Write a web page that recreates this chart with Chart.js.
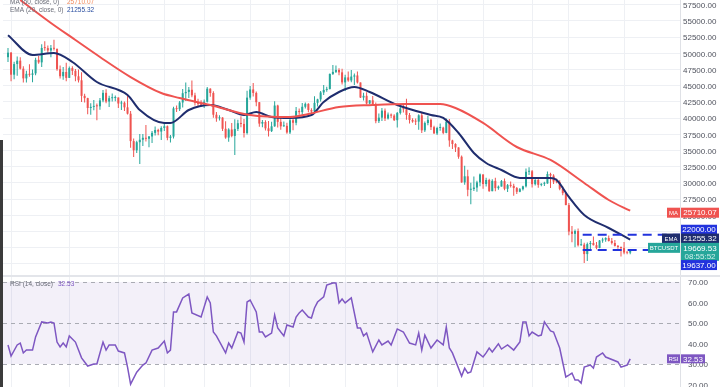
<!DOCTYPE html>
<html>
<head>
<meta charset="utf-8">
<script src="https://cdn.jsdelivr.net/npm/chart.js@4.4.1/dist/chart.umd.min.js"></script>
<style>
  html, body { margin: 0; padding: 0; background: #fff; }
  #wrap { position: relative; width: 720px; height: 387px; overflow: hidden; }
  #priceCanvas { position: absolute; left: 0; top: 0; }
  #rsiCanvas { position: absolute; left: 0; top: 277px; }
  #sep { position: absolute; left: 0; top: 275px; width: 720px; height: 2px; background: #e3e5ea; }
  #edge { position: absolute; left: 0; top: 140px; width: 3px; height: 247px; background: #3b3b3b; }
</style>
</head>
<body>
<div id="wrap">
  <canvas id="priceCanvas" width="720" height="275"></canvas>
  <div id="sep"></div>
  <canvas id="rsiCanvas" width="720" height="110"></canvas>
  <div id="edge"></div>
</div>
<script>
// BTCUSDT daily candles, first candle 2021-12-12, last 2022-07-03 (index = day number)
var open = [
  49400,50100,46700,48340,48860,47630,46130,46830,46680,46900,
  48990,48600,50820,50800,50430,50800,50700,47540,46460,47120,
  46210,47720,47290,46450,45830,43430,43080,41560,41730,41860,
  41820,42730,43900,42560,43070,43100,43180,42250,42370,41660,
  40680,36450,35030,36280,36660,36960,36810,37160,37720,38170,
  37920,38480,38740,36950,37150,41500,41380,42410,43840,44040,
  44370,43510,42380,42200,42050,42530,44540,43870,40520,39970,
  40090,38350,37000,38240,37250,38330,39210,39100,37700,43160,
  44420,43890,42450,39150,39400,38420,37990,38730,41940,39420,
  38730,38810,37780,39670,39280,41110,40920,41750,42200,41260,
  41000,42360,42890,43960,44350,44500,46820,47130,47430,47060,
  45510,46280,45810,46410,46580,45500,43170,43440,42250,42750,
  42160,39530,40070,41150,39940,40550,40380,39680,40800,41500,
  41360,40480,39710,39470,39450,40430,38110,39240,39740,38600,
  37630,38470,38530,37720,39450,36550,36010,35470,34040,30080,
  31020,28940,29050,29280,30080,31310,29820,30450,28720,30310,
  29190,29430,30280,29090,29650,29540,29200,28630,29030,29470,
  31720,31800,29800,30450,29700,29860,29910,31370,31130,30200,
  30110,29090,28420,26580,22490,22140,22580,20380,20470,19010,
  20560,20720,20390,19960,21110,21240,21490,21040,20730,20280,
  20100,19940,19250,19240
];
var high = [
  50800,50200,48700,49500,49400,48000,47300,48300,47500,49300,
  49600,51400,51870,51200,51280,52090,50700,48100,47900,48550,
  47950,47990,47570,47500,47070,43750,43150,42300,42800,42250,
  43100,44350,44450,43450,43800,43480,43180,42690,42550,43500,
  41100,36840,36500,37550,37550,38920,37240,38000,38720,38360,
  38750,39270,38850,37380,41750,41950,42650,44500,45500,44800,
  45820,43900,43000,42750,42880,44780,44600,44150,40950,40450,
  40150,39500,38430,39250,39840,39730,40300,39880,44230,44950,
  45400,44100,42500,39700,39650,39550,39450,42590,42050,40250,
  39480,39300,39950,39890,41720,41480,42320,42400,42300,41530,
  43360,43000,44200,45100,44820,46900,48190,48100,47700,47600,
  46700,47200,47440,46890,47200,45500,43900,43970,42800,43420,
  42420,40700,41560,41500,40870,40700,40600,40960,41760,42200,
  42980,40800,39980,39940,40600,40800,39470,40370,39930,38800,
  38670,39170,38650,39920,39850,36650,36130,35500,34240,32660,
  32010,30030,31000,30330,31450,31300,30780,30650,30550,30780,
  29600,30450,30670,29820,30220,29870,29380,29230,29550,32220,
  32400,31980,30690,30690,29950,30180,31760,31560,31330,30690,
  30400,29440,28540,26900,23350,22800,22980,21350,20780,20800,
  21050,21720,20890,21200,21530,21610,21870,21510,21180,20430,
  20180,20870,19420,19700
];
var low = [
  48650,45700,46000,46550,47500,45500,45500,46400,45550,46600,
  48400,47900,50400,50100,49400,50450,47300,46100,45900,45680,
  46200,46650,45700,45500,42500,42400,40600,40500,41200,39650,
  41270,42450,42300,41700,42570,42600,41540,41250,41100,40550,
  35440,34000,34600,32920,35700,36400,35500,36150,37300,37350,
  36630,38000,36600,36250,36850,40950,41100,41650,42650,43100,
  43200,41950,41750,41850,41550,42420,43300,40070,39450,39640,
  38000,36800,36350,37030,34320,38010,38580,37000,37450,42830,
  43330,41830,38650,38600,38090,37150,37850,38650,38540,38220,
  38660,37580,37550,38120,38900,40500,40130,41500,40900,40470,
  40900,41800,42560,43570,44080,44420,46660,46950,46600,45200,
  44200,45620,45520,45120,45350,43120,42730,42110,42130,41870,
  39200,39250,39550,39550,39770,40000,39550,38540,40570,40850,
  39750,39180,39280,38930,38200,37700,37870,38880,38180,37580,
  37390,38050,37500,37650,35570,35250,34770,33710,30030,29730,
  27950,26700,28750,28630,29480,29100,29450,28650,28700,28730,
  28950,29430,28850,28580,29300,28010,28300,28540,28820,29300,
  31200,29300,29600,29250,29470,29520,29880,29220,29840,29940,
  28850,28100,26560,21930,20850,20080,20200,20300,17620,17960,
  19650,20350,19770,19900,20760,20900,20960,20510,20200,19850,
  18630,18980,18980,19000
];
var close = [
  50100,46700,48340,48860,47630,46130,46830,46680,46900,48990,
  48600,50820,50800,50430,50800,50700,47540,46460,47120,46210,
  47720,47290,46450,45830,43430,43080,41560,41730,41860,41820,
  42730,43900,42560,43070,43100,43180,42250,42370,41660,40680,
  36450,35030,36280,36660,36960,36810,37160,37720,38170,37920,
  38480,38740,36950,37150,41500,41380,42410,43840,44040,44370,
  43510,42380,42200,42050,42530,44540,43870,40520,39970,40090,
  38350,37000,38240,37250,38330,39210,39100,37700,43160,44420,
  43890,42450,39150,39400,38420,37990,38730,41940,39420,38730,
  38810,37780,39670,39280,41110,40920,41750,42200,41260,41000,
  42360,42890,43960,44350,44500,46820,47130,47430,47060,45510,
  46280,45810,46410,46580,45500,43170,43440,42250,42750,42160,
  39530,40070,41150,39940,40550,40380,39680,40800,41500,41360,
  40480,39710,39470,39450,40430,38110,39240,39740,38600,37630,
  38470,38530,37720,39450,36550,36010,35470,34040,30080,31020,
  28940,29050,29280,30080,31310,29820,30450,28720,30310,29190,
  29430,30280,29090,29650,29540,29200,28630,29030,29470,31720,
  31800,29800,30450,29700,29860,29910,31370,31130,30200,30110,
  29090,28420,26580,22490,22140,22580,20380,20470,19010,20560,
  20720,20390,19960,21110,21240,21490,21040,20730,20280,20100,
  19940,19250,19240,19670
];

// MA (50) and EMA (20) at these days
var maDay = [4, 14, 22, 30, 40, 50, 56, 66, 79, 92, 98, 108, 119, 130, 141, 146, 155, 166, 177, 188, 196, 203];
var maVal = [58220, 54680, 52050, 49430, 46340, 43870, 43100, 42020, 40480, 40170, 40630, 41710, 42020, 42180, 42180, 41560, 39250, 35540, 33540, 29990, 27360, 25710];
var emaDay = [0, 8, 15, 21, 29, 39, 43, 51, 53, 59, 66, 72, 77, 81, 86, 92, 99, 103, 108, 113, 118, 127, 138, 142, 147, 152, 156, 161, 167, 177, 179, 183, 188, 196, 203];
var emaVal = [52800, 49740, 50050, 48660, 45570, 43570, 41250, 39250, 39250, 41250, 42020, 41250, 40480, 40940, 40170, 40020, 40480, 42490, 44030, 44800, 44030, 42020, 40480, 40020, 37700, 34620, 33070, 31990, 30760, 30760, 30450, 27830, 25050, 23040, 21255];

// RSI (14)
var rsiDay = [0,1,3,4,5,6,8,9,11,13,14,15,16,17,18,19,20,22,24,26,28,29,31,32,33,35,36,38,39,40,42,44,45,47,49,51,52,53,54,55,57,59,60,63,65,66,67,68,71,72,73,75,76,
  77,78,79,81,82,83,84,86,87,88,89,90,91,93,94,95,96,98,99,100,101,103,104,106,107,108,109,110,112,114,115,116,117,119,121,122,124,125,127,129,131,133,134,135,136,138,140,142,143,144,145,148,149,150,151,153,155,156,157,158,160,161,163,165,167,168,169,170,171,173,174,175,177,178,180,182,183,184,185,186,187,188,190,191,192,194,195,199,200,202,203];
var rsiVal = [39.3,33.9,39.3,40.2,35.4,36.8,36.8,43.2,50.5,50,50.5,50,40.7,38.3,40.2,38.3,43.7,40.7,33,29,30,30,40.7,36.8,39.3,39.3,36.3,35.4,28.5,20.2,26,29.5,30.5,36.8,37.8,41.2,35.4,36.8,55.4,55.4,62.2,64.1,54.9,52.9,62.7,59.8,45.6,43.7,35.4,40.2,37.8,45.6,45.1,
  40.7,60.2,61.2,55.4,45.6,45.6,43.2,45.1,53.9,47.6,45.6,43.7,49,48,52.9,54.9,56.3,52.9,52.4,57.3,60.2,62.7,68.5,69.5,69.5,59.8,61.7,59.8,62.2,47.6,47.6,43.7,45.1,35.9,41.7,39.3,41.2,39.3,47.1,45.6,40.2,39.3,45.1,36.8,44.1,37.8,41.7,39.3,48,37.8,35.4,24.1,28,25.6,26.1,35.9,33.4,35.4,37.8,35.9,39.8,37.3,39.3,36.8,40.7,50.5,50.5,43.7,45.6,43.7,44.1,50.5,46.1,45.6,37.8,23.7,24.6,25.6,22.2,22.2,20.7,28.5,29.5,28,33.4,35.4,33.4,31,28.5,29.5,32.53];

var priceTicks = [17500,20000,22500,25000,27500,30000,32500,35000,37500,40000,42500,45000,47500,50000,52500,55000,57500];
var rsiTicks = [20, 30, 40, 50, 60, 70];
var gridDays = [1, 20, 36, 51, 64, 79, 92, 110, 127, 140, 155, 171, 183, 201];

var levels = [22000, 19637];   // drawn resistance / support
var levelFrom = 187.5;
var lastPrice = 19669.53, countdown = '08:55:52';
var lastMA = 25710.07, lastEMA = 21255.32, lastRSI = 32.53;

var UP = '#26a69a', DOWN = '#ef5350';
var MA_COLOR = '#ef5350', EMA_COLOR = '#1f2d6e', RSI_COLOR = '#7e57c2', LEVEL_COLOR = '#2233dd';
var FONT = '"Liberation Sans", Arial, sans-serif';

var days = close.map(function (c, i) { return i; });
function candleColor(ctx) {
  var i = ctx.dataIndex;
  return close[i] >= open[i] ? UP : DOWN;
}

function xAxis() {
  return {
    type: 'linear', min: -1.63, max: 219.25, offset: false,
    grid: { color: '#eef0f4', drawTicks: false, offset: false },
    border: { display: false },
    ticks: { display: false },
    afterBuildTicks: function (s) { s.ticks = gridDays.map(function (v) { return { value: v }; }); },
    afterFit: function (s) { s.height = 0; }
  };
}

// coloured label box, value boxes use 8px text, name tags a smaller one
function box(ctx, x, y, w, h, bg, txt, size) {
  ctx.fillStyle = bg;
  ctx.fillRect(x, y, w, h);
  ctx.font = (size || 8) + 'px ' + FONT;
  ctx.fillStyle = '#fff';
  ctx.textAlign = 'center';
  ctx.textBaseline = 'middle';
  ctx.fillText(txt, x + w / 2, y + h / 2 + 0.5);
}

// price pane extras: dashed levels, axis text, price tags, legend
var pricePlugin = {
  id: 'priceExtras',
  afterDatasetsDraw: function (chart) {
    var ctx = chart.ctx, xs = chart.scales.x, ys = chart.scales.y, area = chart.chartArea;
    ctx.save();
    ctx.strokeStyle = LEVEL_COLOR;
    ctx.lineWidth = 2;
    ctx.setLineDash([9, 6]);
    levels.forEach(function (v) {
      var y = ys.getPixelForValue(v);
      ctx.beginPath();
      ctx.moveTo(xs.getPixelForValue(levelFrom), y);
      ctx.lineTo(area.right, y);
      ctx.stroke();
    });
    ctx.restore();
  },
  afterDraw: function (chart) {
    var ctx = chart.ctx, ys = chart.scales.y;
    ctx.save();
    ctx.font = '8px ' + FONT;
    ctx.fillStyle = '#50535e';
    ctx.textAlign = 'left';
    ctx.textBaseline = 'middle';
    priceTicks.forEach(function (v) {
      ctx.fillText(v.toFixed(2), 683, ys.getPixelForValue(v) + 1);
    });

    var yMA = ys.getPixelForValue(lastMA) + 2;
    box(ctx, 667, yMA - 5, 13, 10, MA_COLOR, 'MA', 6);
    box(ctx, 681, yMA - 5, 38, 10, MA_COLOR, lastMA.toFixed(2));

    var yR = ys.getPixelForValue(levels[0]) - 5;
    box(ctx, 681, yR - 5, 36, 10, LEVEL_COLOR, levels[0].toFixed(2));

    var yE = ys.getPixelForValue(lastEMA) - 1;
    box(ctx, 662, yE - 5, 18, 10, EMA_COLOR, 'EMA', 6);
    box(ctx, 681, yE - 5, 38, 10, EMA_COLOR, lastEMA.toFixed(2));

    var yP = ys.getPixelForValue(lastPrice) - 2;
    box(ctx, 648, yP - 5, 32, 10, UP, 'BTCUSDT', 6);
    box(ctx, 681, yP - 5, 38, 18, UP, '');
    ctx.font = '8px ' + FONT;
    ctx.fillStyle = '#fff';
    ctx.fillText(lastPrice.toFixed(2), 700, yP + 0.5);
    ctx.fillStyle = '#cdeeea';
    ctx.fillText(countdown, 700, yP + 8.5);

    var yS = ys.getPixelForValue(levels[1]) + 15;
    box(ctx, 681, yS - 5, 36, 10, LEVEL_COLOR, levels[1].toFixed(2));

    // legend
    ctx.font = '6.5px ' + FONT;
    ctx.textAlign = 'left';
    ctx.fillStyle = '#6a6d78';
    ctx.fillText('MA (50, close, 0)', 10, 2);
    ctx.fillText('EMA (20, close, 0)', 10, 10);
    ctx.fillStyle = '#f28a5c';
    ctx.fillText(lastMA.toFixed(2), 67, 2);
    ctx.fillStyle = '#2a4ea0';
    ctx.fillText(lastEMA.toFixed(2), 67, 10);
    ctx.restore();
  }
};

new Chart(document.getElementById('priceCanvas'), {
  type: 'bar',
  data: {
    datasets: [
      {
        type: 'line', label: 'MA', order: 0,
        data: maDay.map(function (d, k) { return { x: d, y: maVal[k] }; }),
        borderColor: MA_COLOR, borderWidth: 2, pointRadius: 0,
        cubicInterpolationMode: 'monotone'
      },
      {
        type: 'line', label: 'EMA', order: 0,
        data: emaDay.map(function (d, k) { return { x: d, y: emaVal[k] }; }),
        borderColor: EMA_COLOR, borderWidth: 2, pointRadius: 0,
        cubicInterpolationMode: 'monotone'
      },
      {
        label: 'body', order: 1, grouped: false,
        data: days.map(function (i) { return { x: i, y: [open[i], close[i]] }; }),
        backgroundColor: candleColor, barThickness: 2, minBarLength: 1,
        inflateAmount: 0, borderWidth: 0
      },
      {
        label: 'wick', order: 2, grouped: false,
        data: days.map(function (i) { return { x: i, y: [low[i], high[i]] }; }),
        backgroundColor: candleColor, barThickness: 1,
        inflateAmount: 0, borderWidth: 0
      }
    ]
  },
  options: {
    responsive: false,
    animation: false,
    devicePixelRatio: 1,
    layout: { padding: { left: 3, right: 0, top: 0, bottom: 0 } },
    plugins: { legend: { display: false }, tooltip: { enabled: false } },
    scales: {
      x: xAxis(),
      y: {
        position: 'right', min: 15787, max: 58225,
        grid: { color: '#eef0f4', drawTicks: false },
        border: { display: true, color: '#dfe1e6' },
        ticks: { display: false },
        afterBuildTicks: function (s) { s.ticks = priceTicks.map(function (v) { return { value: v }; }); },
        afterFit: function (s) { s.width = 40; }
      }
    }
  },
  plugins: [pricePlugin]
});

// RSI pane extras: band, dashed levels, axis text, tag, legend
var rsiPlugin = {
  id: 'rsiExtras',
  beforeDatasetsDraw: function (chart) {
    var ctx = chart.ctx, ys = chart.scales.y, area = chart.chartArea;
    var y70 = ys.getPixelForValue(70), y30 = ys.getPixelForValue(30);
    ctx.save();
    ctx.fillStyle = 'rgba(126, 87, 194, 0.09)';
    ctx.fillRect(area.left - 3, y70, area.right - area.left + 3, y30 - y70);
    ctx.strokeStyle = '#a9abb3';
    ctx.lineWidth = 1;
    ctx.setLineDash([4, 4]);
    [70, 50, 30].forEach(function (v) {
      var y = Math.round(ys.getPixelForValue(v)) + 0.5;
      ctx.beginPath();
      ctx.moveTo(area.left, y);
      ctx.lineTo(area.right, y);
      ctx.stroke();
    });
    ctx.restore();
  },
  afterDraw: function (chart) {
    var ctx = chart.ctx, ys = chart.scales.y;
    ctx.save();
    ctx.font = '8px ' + FONT;
    ctx.fillStyle = '#50535e';
    ctx.textAlign = 'left';
    ctx.textBaseline = 'middle';
    rsiTicks.forEach(function (v) {
      ctx.fillText(v.toFixed(2), 688, ys.getPixelForValue(v) + 1);
    });
    var y = ys.getPixelForValue(lastRSI);
    box(ctx, 667, y - 4.5, 13, 9, RSI_COLOR, 'RSI', 6);
    box(ctx, 681, y - 4.5, 24, 9, RSI_COLOR, lastRSI.toFixed(2));

    ctx.font = '6.5px ' + FONT;
    ctx.textAlign = 'left';
    ctx.textBaseline = 'middle';
    ctx.fillStyle = '#6a6d78';
    var label = 'RSI (14, close)';
    ctx.fillText(label, 10, 7);
    ctx.fillStyle = RSI_COLOR;
    ctx.fillText(lastRSI.toFixed(2), 10 + ctx.measureText(label).width + 5, 7);
    ctx.restore();
  }
};

new Chart(document.getElementById('rsiCanvas'), {
  type: 'line',
  data: {
    datasets: [{
      label: 'RSI',
      data: rsiDay.map(function (d, k) { return { x: d, y: rsiVal[k] }; }),
      borderColor: RSI_COLOR, borderWidth: 1.5, pointRadius: 0, tension: 0
    }]
  },
  options: {
    responsive: false,
    animation: false,
    devicePixelRatio: 1,
    layout: { padding: { left: 3, right: 0, top: 0, bottom: 0 } },
    plugins: { legend: { display: false }, tooltip: { enabled: false } },
    scales: {
      x: xAxis(),
      y: {
        position: 'right', min: 18.8, max: 72.4,
        grid: { display: false },
        border: { display: true, color: '#dfe1e6' },
        ticks: { display: false },
        afterBuildTicks: function (s) { s.ticks = rsiTicks.map(function (v) { return { value: v }; }); },
        afterFit: function (s) { s.width = 40; }
      }
    }
  },
  plugins: [rsiPlugin]
});
</script>
</body>
</html>
